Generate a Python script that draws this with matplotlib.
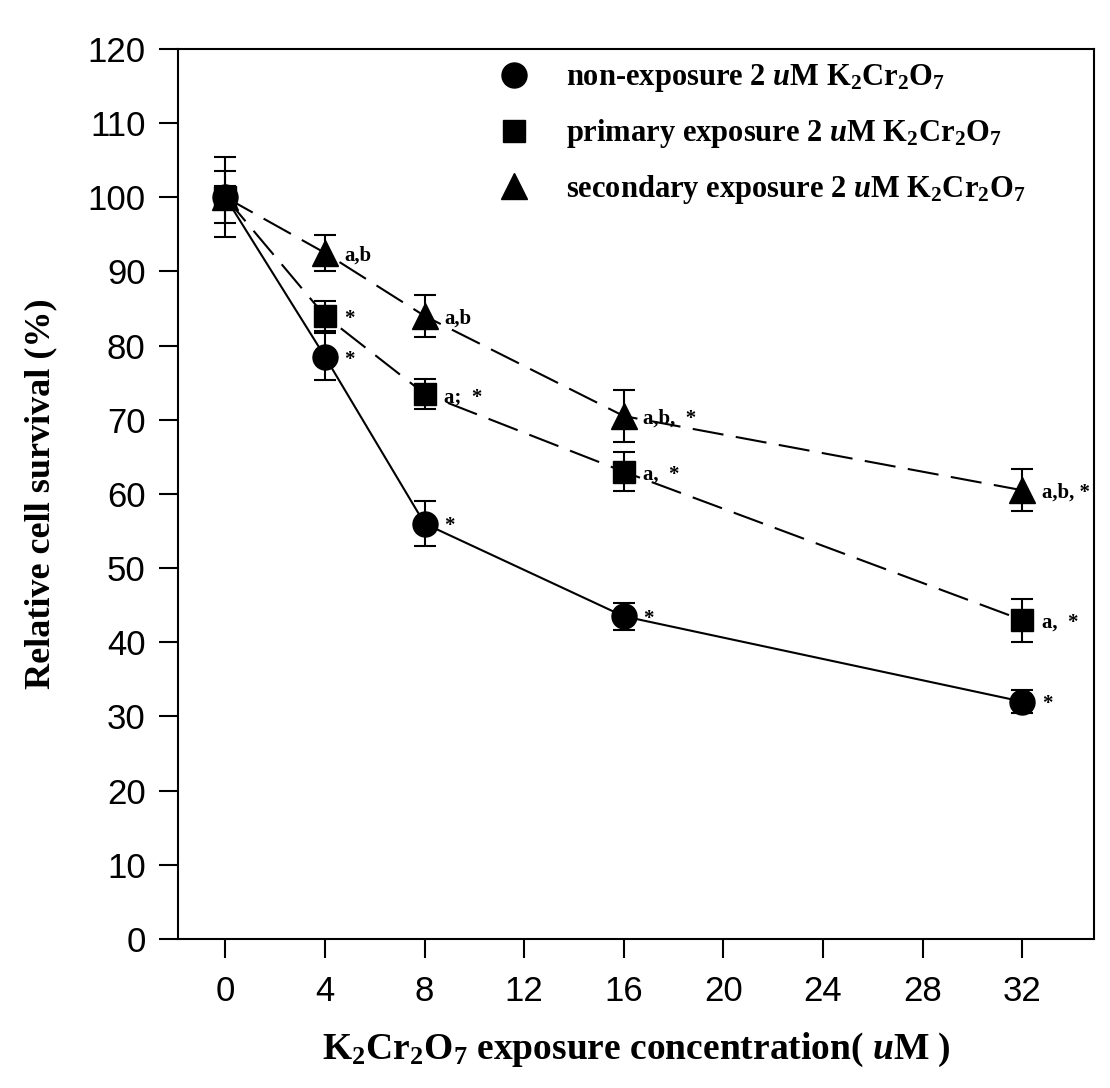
import numpy as np
import matplotlib
matplotlib.use('Agg')
import matplotlib.pyplot as plt
from matplotlib.lines import Line2D

plt.rcParams['mathtext.fontset'] = 'custom'
plt.rcParams['mathtext.rm'] = 'Liberation Serif:bold'
plt.rcParams['mathtext.bf'] = 'Liberation Serif:bold'
plt.rcParams['mathtext.it'] = 'Liberation Serif:italic:bold'
plt.rcParams['mathtext.default'] = 'rm'

# K2Cr2O7 concentration (uM) and relative survival (%)
conc = [0, 4, 8, 16, 32]
non_exp = [100, 78.5, 56, 43.5, 32]
non_exp_err = [5.4, 3.2, 3.0, 1.8, 1.5]
primary = [100, 84, 73.5, 63, 43]
primary_err = [3.5, 2.0, 2.0, 2.6, 2.9]
secondary = [100, 92.5, 84, 70.5, 60.5]
secondary_err = [1.5, 2.4, 2.8, 3.5, 2.8]

# significance marks next to each point
non_exp_sig = ['', '*', '*', '*', '*']
primary_sig = ['', '*', 'a;  *', 'a,  *', 'a,  *']
secondary_sig = ['', 'a,b', 'a,b', 'a,b,  *', 'a,b, *']

labels = [r'non-exposure 2 $\mathit{u}$M K$_2$Cr$_2$O$_7$',
          r'primary exposure 2 $\mathit{u}$M K$_2$Cr$_2$O$_7$',
          r'secondary exposure 2 $\mathit{u}$M K$_2$Cr$_2$O$_7$']

xticks = [0, 4, 8, 12, 16, 20, 24, 28, 32]
yticks = [0, 10, 20, 30, 40, 50, 60, 70, 80, 90, 100, 110, 120]

fig = plt.figure(figsize=(11.1, 10.88), dpi=100)
ax = fig.add_axes([0.16, 0.137, 0.826, 0.818])

series = [
    (non_exp, non_exp_err, non_exp_sig, 'o', 18, '-'),
    (primary, primary_err, primary_sig, 's', 16.5, (0, (15, 6))),
    (secondary, secondary_err, secondary_sig, '^', 19, (0, (15, 6))),
]

for vals, errs, sig, mk, ms, ls in series:
    ax.errorbar(conc, vals, yerr=errs, color='black', marker=mk, markersize=ms,
                linestyle=ls, linewidth=1.5, elinewidth=1.5, capsize=8,
                capthick=1.5)
    for x, y, s in zip(conc, vals, sig):
        if s:
            ax.annotate(s, (x, y), xytext=(14, -2), textcoords='offset points',
                        ha='left', va='center', fontsize=15,
                        family='Liberation Serif', weight='bold')

ax.set_xlim(-1.92, 34.9)
ax.set_ylim(0, 120)
ax.set_xticks(xticks)
ax.set_yticks(yticks)
for lab in ax.get_xticklabels() + ax.get_yticklabels():
    lab.set_family('Liberation Sans')
    lab.set_fontsize(25)
ax.tick_params(axis='both', direction='out', length=14, width=1.5,
               top=False, right=False)
ax.tick_params(axis='x', pad=12)
ax.tick_params(axis='y', pad=9)
for sp in ax.spines.values():
    sp.set_linewidth(1.5)

ax.set_xlabel(r'K$_2$Cr$_2$O$_7$ exposure concentration( $\mathit{u}$M )',
              family='Liberation Serif', weight='bold', fontsize=27, labelpad=16)
ax.set_ylabel('Relative cell survival (%)', family='Liberation Serif',
              weight='bold', fontsize=26, labelpad=22)

handles = [Line2D([], [], color='black', marker=m, markersize=s, linestyle='None')
           for m, s in [('o', 18), ('s', 16.5), ('^', 19)]]
ax.legend(handles, labels, loc='upper left', bbox_to_anchor=(0.35, 0.985),
          frameon=False, handlelength=1.0, handletextpad=1.2, labelspacing=0.75,
          borderpad=0, borderaxespad=0,
          prop={'family': 'Liberation Serif', 'weight': 'bold', 'size': 22})

fig.savefig('out.png', dpi=100)
